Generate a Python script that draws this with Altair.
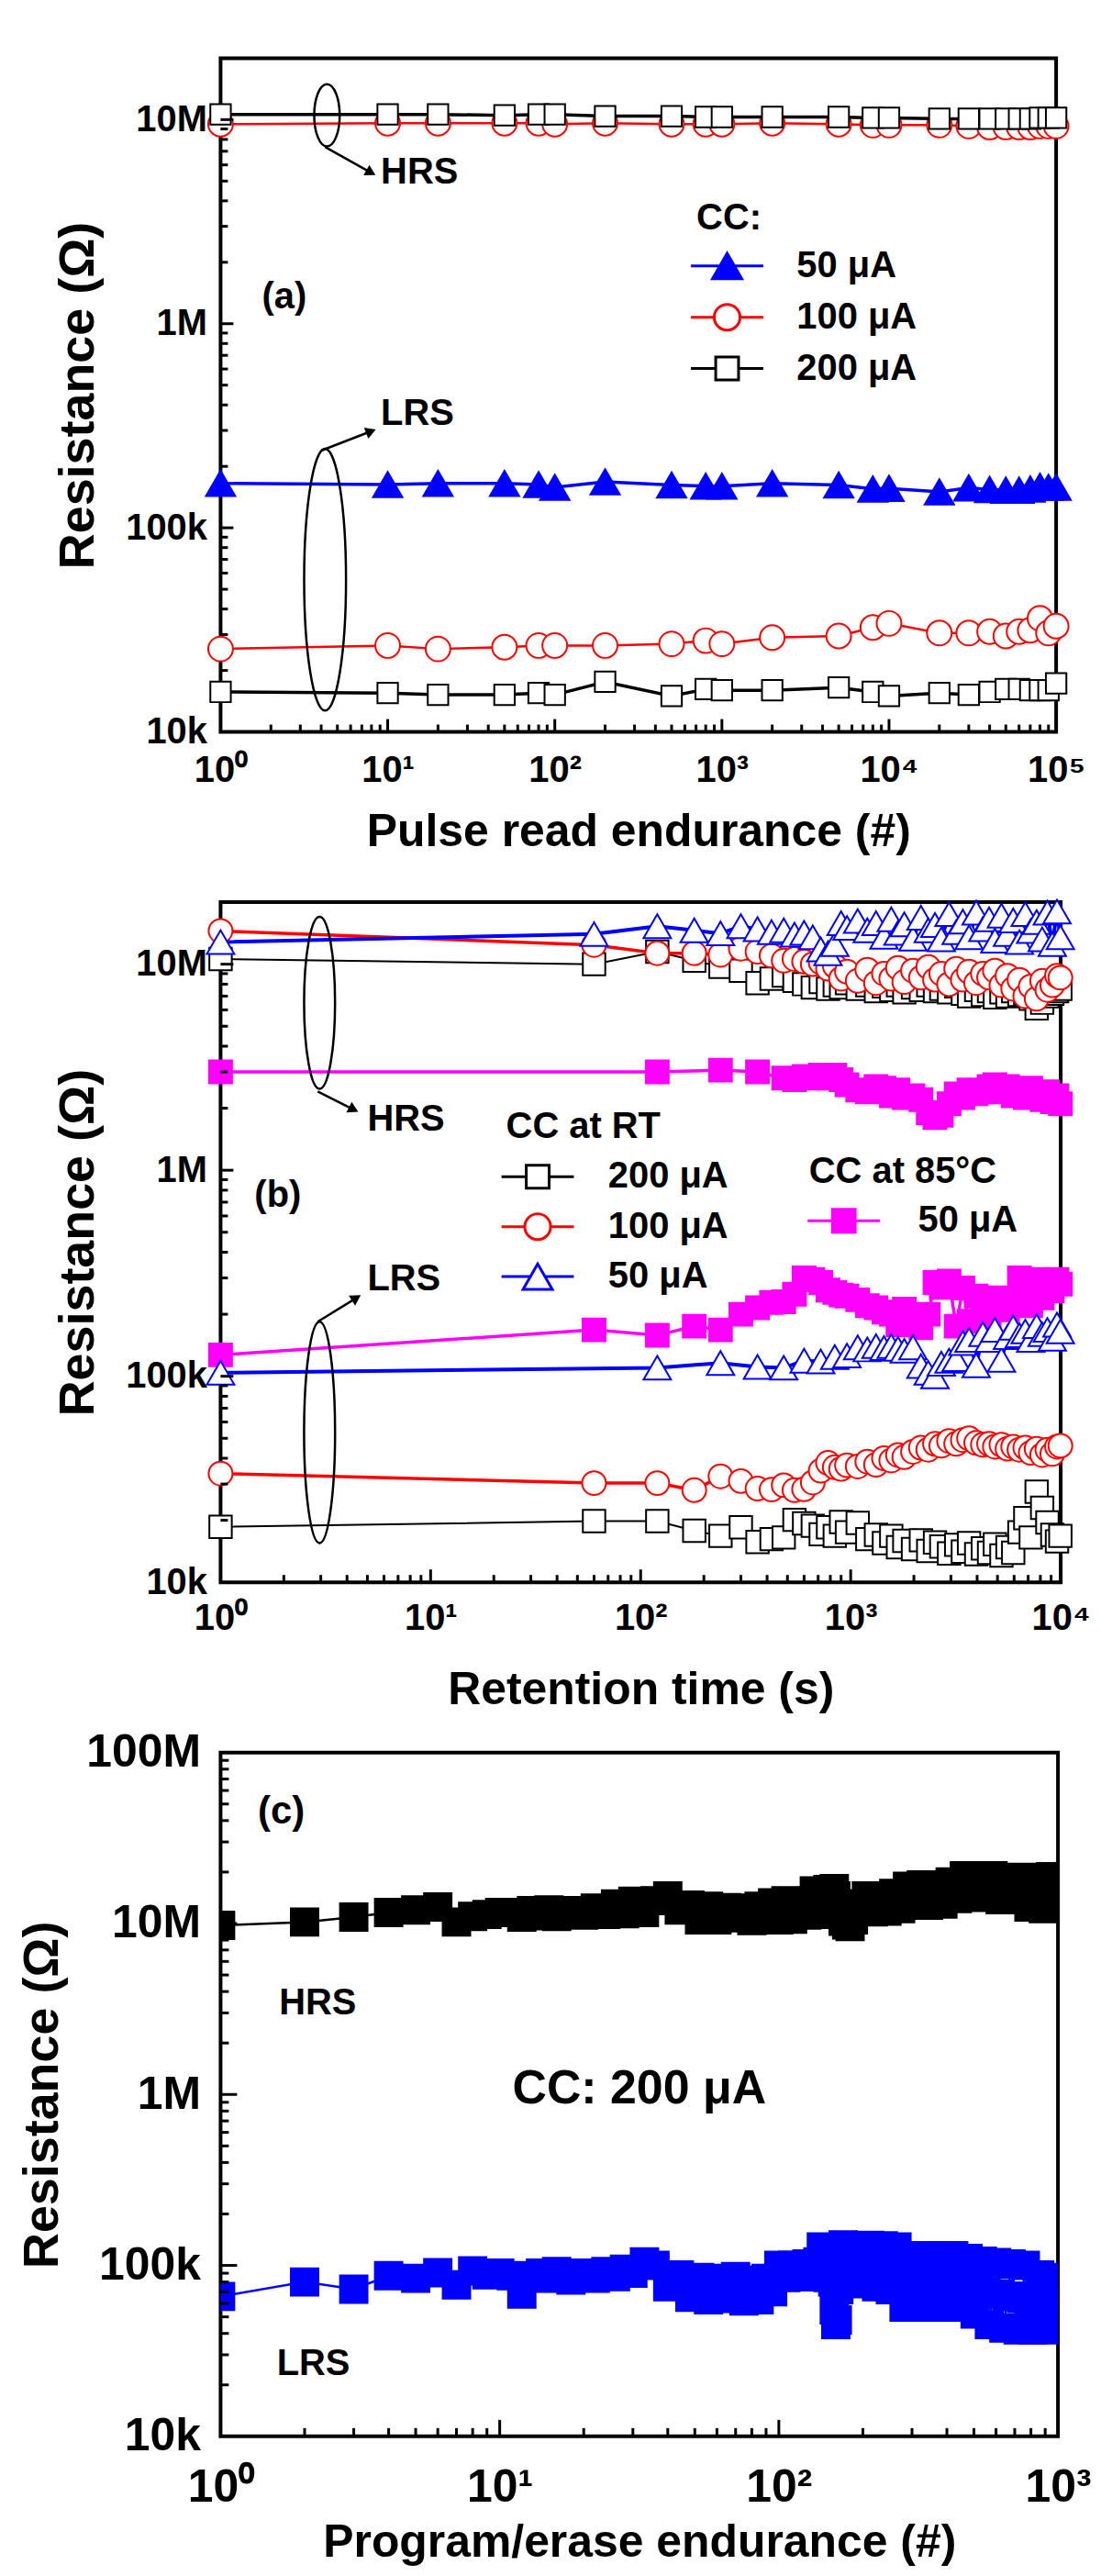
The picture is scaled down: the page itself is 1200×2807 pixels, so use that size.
import altair as alt
import pandas as pd

FONT = "Liberation Sans"
BLUE, RED, BLACK, MAGENTA = "#0000ff", "#ff0000", "#000000", "#ff00ff"

# ======================= DATA =======================
# ---- panel (a): pulse read endurance ----
a_x = [1, 10, 20, 50, 80, 100, 200, 500, 800, 1000, 2000, 5000, 8000, 10000,
       20000, 30000, 40000, 50000, 60000, 70000, 80000, 90000, 100000]
a_hrs_200_M = [10.6, 10.6, 10.6, 10.5, 10.6, 10.6, 10.4, 10.4, 10.3, 10.3, 10.3, 10.3,
               10.2, 10.2, 10.1, 10.1, 10.1, 10.1, 10.1, 10.1, 10.2, 10.2, 10.2]
a_hrs_100_M = [9.5, 9.6, 9.6, 9.6, 9.6, 9.5, 9.6, 9.5, 9.5, 9.5, 9.6, 9.5,
               9.4, 9.4, 9.4, 9.3, 9.2, 9.2, 9.2, 9.2, 9.3, 9.3, 9.3]
a_lrs_50_k = [165, 163, 165, 165, 163, 158, 168, 162, 160, 160, 165, 162,
              155, 156, 150, 157, 154, 153, 153, 155, 160, 158, 158]
a_lrs_100_k = [25.5, 26.5, 25.5, 26, 26.5, 26.5, 26.5, 27, 28, 27, 29, 29.5,
               32.5, 34, 30.5, 30.5, 31, 29.5, 31, 31.5, 36, 30.5, 33]
a_lrs_200_k = [15.7, 15.5, 15.2, 15.2, 15.5, 15.2, 17.6, 15.0, 16.2, 16.0, 16.0, 16.5,
               15.7, 15.0, 15.5, 15.2, 15.7, 16.2, 16.2, 16.0, 16.0, 16.0, 17.3]
a_legend = ["50 \u03bcA", "100 \u03bcA", "200 \u03bcA"]

# ---- panel (b): retention ----
b_x = [1, 60, 120, 180, 240, 300, 360, 420, 480, 540, 600, 660, 720, 780, 840, 900, 960,
       1080, 1200, 1320, 1440, 1560, 1680, 1800, 1980, 2160, 2340, 2520, 2700,
       2940, 3180, 3420, 3660, 3960, 4260, 4560, 4860, 5220, 5580, 5940,
       6360, 6780, 7200, 7680, 8160, 8640, 9120, 9600, 9960]
b_hrs_200_M = [10.6, 10.0, 11.5, 10.4, 9.7, 9.3, 8.1, 8.5, 8.8, 8.3, 8.0, 7.7, 8.2, 7.6, 7.9, 7.7, 8.1,
               7.6, 7.9, 7.4, 7.8, 7.5, 7.9, 7.3, 7.7, 7.5, 7.9, 7.4, 7.6,
               7.3, 7.8, 7.2, 7.0, 7.5, 7.1, 7.4, 6.9, 7.3, 7.0, 7.4,
               7.1, 7.2, 6.8, 6.1, 6.5, 7.0, 7.2, 7.4, 7.6]
b_hrs_100_M = [14.5, 12.4, 11.3, 11.3, 11.1, 11.9, 11.5, 11.0, 10.4, 10.6, 10.3, 10.0, 10.2, 9.5, 9.8, 8.5, 9.2,
               8.3, 9.4, 8.1, 9.0, 8.5, 9.6, 8.2, 9.3, 8.6, 9.7, 8.4, 9.0,
               8.0, 9.5, 8.4, 9.2, 8.1, 9.0, 8.6, 9.3, 7.9, 8.8, 7.6,
               8.4, 7.0, 7.8, 6.8, 8.3, 7.5, 7.9, 8.8, 8.6]
b_hrs_50_M = [12.8, 14.0, 15.3, 14.6, 14.1, 15.3, 14.8, 14.3, 14.6, 13.9, 14.2, 13.5, 11.8, 11.3, 12.5, 15.8, 15.0,
              16.2, 14.6, 15.8, 13.6, 16.5, 14.2, 15.6, 13.3, 16.8, 14.6, 15.5, 13.2,
              17.5, 14.3, 16.1, 13.5, 17.8, 14.8, 16.5, 13.0, 17.2, 14.0, 16.3,
              12.8, 17.5, 14.5, 16.0, 13.2, 17.8, 12.5, 18.0, 13.5]
b_lrs_200_k = [18.6, 19.8, 19.8, 17.8, 16.8, 18.5, 15.7, 16.2, 16.5, 20.1, 19.3, 18.8, 17.1, 18.5, 16.8, 19.6, 17.5,
               19.4, 16.2, 17.0, 15.5, 16.8, 14.8, 15.9, 14.5, 16.0, 14.2, 15.6, 14.9,
               13.8, 15.2, 14.1, 15.5, 13.7, 14.6, 13.9, 15.3, 13.5, 14.8, 13.9,
               17.5, 20.5, 16.5, 27.5, 23.0, 19.5, 17.0, 15.8, 16.8]
b_lrs_100_k = [33.7, 30.3, 30.3, 28.0, 32.7, 31.0, 28.5, 28.2, 29.6, 28.0, 28.3, 30.5, 34.8, 38.0, 36.2, 35.5, 37.0,
               36.5, 38.5, 37.2, 40.0, 39.0, 41.5, 40.5, 43.0, 45.0, 44.0, 47.0, 46.0,
               48.5, 47.0, 49.0, 50.0, 47.5, 46.5, 47.0, 45.5, 46.5, 44.5, 45.5,
               44.0, 45.0, 42.5, 44.5, 41.5, 44.0, 42.0, 45.5, 46.0]
b_lrs_50_x = [1, 120, 240, 360, 480, 600, 720, 840, 960,
              1080, 1200, 1320, 1440, 1560, 1680, 1800, 1980, 2160, 2340, 2520, 2700,
              2940, 3180, 3420, 3660, 3960, 4260, 4560, 4860, 5220, 5580, 5940,
              6360, 6780, 7200, 7680, 8160, 8640, 9120, 9600, 9960]
b_lrs_50_k = [104, 110, 116, 111, 110, 119, 118, 124, 126,
              138, 135, 140, 137, 140, 136, 133, 138, 112, 104, 100, 115,
              119, 121, 145, 150, 113, 160, 150, 168, 120, 155, 172,
              158, 165, 150, 175, 160, 168, 152, 178, 165]
b_hrs_85_x = [1, 120, 240, 360, 480, 540, 600, 660, 720, 780, 840, 900, 960,
              1080, 1200, 1320, 1440, 1560, 1680, 1800, 1980, 2160, 2340, 2520, 2700,
              2940, 3180, 3420, 3660, 3960, 4260, 4560, 4860, 5220, 5580, 5940,
              6360, 6780, 7200, 7680, 8160, 8640, 9120, 9600, 9960]
b_hrs_85_M = [3.0, 3.0, 3.06, 3.0, 2.8, 2.75, 2.85, 2.8, 2.9, 2.8, 2.9, 2.75, 2.6,
              2.45, 2.4, 2.55, 2.5, 2.3, 2.45, 2.25, 2.3, 2.2, 1.9, 1.8, 1.85,
              2.1, 2.35, 2.25, 2.45, 2.35, 2.4, 2.55, 2.6, 2.4, 2.55, 2.3,
              2.4, 2.25, 2.5, 2.3, 2.2, 2.4, 2.15, 2.3, 2.1]
b_lrs_85_k = [127, 168, 158, 175, 168, 200, 215, 228, 230, 250, 300, 295, 285, 262, 255, 248, 245,
              235, 220, 215, 205, 200, 178, 212, 195, 172, 200, 285, 270,
              290, 175, 268, 185, 245, 235, 195, 240, 230, 210, 235,
              300, 285, 220, 295, 240, 290, 260, 295, 280]
b_legend_rt = ["200 \u03bcA", "100 \u03bcA", "50 \u03bcA"]
b_legend_85 = ["50 \u03bcA"]

# ---- panel (c): program/erase endurance ----
c_x = [1, 2, 3, 4, 5, 6, 7, 8, 9, 10, 11, 12, 13, 14, 15, 16, 18, 20, 22, 24, 26, 28, 30,
       33, 36, 40, 44, 48, 52, 56, 60, 65, 70, 75, 80, 85, 90, 95,
       100, 103, 106, 109, 112, 115, 118, 122, 126, 130, 134, 138, 142, 146, 150,
       154, 156, 158, 160, 162, 164, 166, 170, 175, 180, 185, 190, 195,
       200, 206, 212, 218, 224, 230, 237, 244, 251, 258, 265, 273, 281, 289, 297,
       306, 315, 324, 334, 344, 354, 365, 376, 387, 399, 411, 423, 436, 449, 462, 476, 490,
       505, 520, 536, 552, 568, 585, 603, 621, 640, 659, 679, 699,
       720, 742, 764, 787, 811, 835, 860, 886, 912, 940, 968, 1000]
c_hrs_M = [9.75, 10.2, 10.9, 11.6, 12.0, 12.5, 10.2, 11.0, 11.3, 11.6, 11.6, 10.9, 11.9, 11.1, 12.0, 11.0,
           11.9, 11.2, 12.3, 11.3, 13.0, 11.4, 13.5,
           11.6, 13.6, 14.5, 12.0, 12.8, 10.5, 12.6, 10.5, 12.4, 10.8, 12.3, 10.4, 12.6, 10.6, 13.2,
           10.5, 12.0, 13.6, 12.0, 10.6, 12.0, 13.4, 12.2, 11.2, 13.5, 15.5, 13.0, 11.3, 13.6, 15.8,
           13.5, 15.0, 16.0, 14.5, 13.0, 12.2, 11.5, 10.3, 9.8, 9.6, 10.5, 12.0, 11.8,
           13.0, 14.5, 13.0, 11.7, 13.0, 14.3, 13.0, 11.8, 13.2, 15.0, 13.5, 12.2, 14.0, 16.5, 14.5,
           12.8, 14.5, 16.8, 14.6, 12.8, 14.6, 16.5, 14.6, 13.0, 15.0, 17.5, 16.0, 14.0, 16.2, 19.0, 16.5, 14.2,
           16.2, 18.8, 16.5, 14.5, 16.5, 19.0, 16.2, 13.8, 16.0, 18.5, 16.0, 14.1,
           15.5, 18.6, 15.5, 12.5, 15.2, 18.5, 15.0, 12.2, 15.0, 18.8, 15.2, 12.5]
c_lrs_k = [65.8, 80, 72.6, 87, 84, 90.6, 77, 93, 88, 90, 87, 68, 86, 90, 84, 92,
           82, 90, 84, 92, 86, 95, 90,
           105, 100, 75, 88, 65, 85, 63, 84, 64, 86, 62, 82, 63, 84, 70,
           100, 92, 85, 93, 100, 92, 86, 94, 102, 93, 86, 105, 128, 105, 85,
           110, 80, 55, 45, 48, 72, 100, 132, 100, 80, 102, 130, 100,
           78, 100, 131, 98, 75, 100, 130, 96, 72, 98, 128, 90, 57, 82, 112,
           82, 58, 82, 114, 82, 57, 80, 112, 80, 58, 80, 114, 80, 57, 80, 110, 78,
           52, 74, 106, 70, 45, 68, 104, 68, 43, 66, 102, 66,
           42, 64, 100, 62, 42, 60, 88, 60, 42, 60, 85, 60]

# ======================= HELPERS =======================
SUP_EXPR = ("'10' + ['\u2070','\u00b9','\u00b2','\u00b3','\u2074','\u2075']"
            "[round(log(datum.value)/LN10)]")
Y_EXPR = ("datum.value >= 9e7 ? '100M' : datum.value >= 9e6 ? '10M' : "
          "datum.value >= 9e5 ? '1M' : datum.value >= 9e4 ? '100k' : '10k'")


def xaxis(title, vals, lfs, tfs, lpad, tpad):
    return alt.Axis(values=vals, labelExpr=SUP_EXPR, title=title, labelFont=FONT,
                    labelFontWeight="bold", labelFontSize=lfs, labelColor="black",
                    labelPadding=lpad, labelOverlap=False, labelFlush=False, labelBound=False,
                    titleFont=FONT, titleFontWeight="bold", titleFontSize=tfs,
                    titleColor="black", titlePadding=tpad, ticks=False, domain=False, grid=False)


def yaxis(vals, lfs, tfs, lpad, tpad):
    return alt.Axis(values=vals, labelExpr=Y_EXPR, title="Resistance (\u03a9)", labelFont=FONT,
                    labelFontWeight="bold", labelFontSize=lfs, labelColor="black",
                    labelPadding=lpad, labelOverlap=False, labelFlush=False, labelBound=False,
                    titleFont=FONT, titleFontWeight="bold", titleFontSize=tfs,
                    titleColor="black", titlePadding=tpad, ticks=False, domain=False, grid=False)


class Panel:
    def __init__(self, xdom, ydom, xax, yax, w, h, clip=False):
        self.xs = alt.Scale(type="log", domain=xdom, nice=False)
        self.ys = alt.Scale(type="log", domain=ydom, nice=False)
        self.xax, self.yax, self.w, self.h, self.clip = xax, yax, w, h, clip
        self.layers = []

    def X(self, f="x"):
        return alt.X(f"{f}:Q", scale=self.xs, axis=self.xax)

    def Y(self, f="y"):
        return alt.Y(f"{f}:Q", scale=self.ys, axis=self.yax)

    def series(self, xv, yv, color, shape, size, lw, filled, sw=2):
        df = pd.DataFrame({"x": xv, "y": yv})
        base = alt.Chart(df)
        self.layers.append(base.mark_line(color=color, strokeWidth=lw, clip=self.clip)
                           .encode(x=self.X(), y=self.Y()))
        self.layers.append(base.mark_point(shape=shape, size=size, filled=True,
                                           fill=(color if filled else "white"), stroke=color,
                                           strokeWidth=sw, opacity=1, clip=self.clip)
                           .encode(x=self.X(), y=self.Y()))

    def ticks(self, xmaj, xmin, ymaj, ymin, lmaj, lmin):
        for vals, ln in ((xmaj, lmaj), (xmin, lmin)):
            self.layers.append(alt.Chart(pd.DataFrame({"v": vals}))
                               .mark_rule(color="black", strokeWidth=3)
                               .encode(x=self.X("v"), y=alt.value(self.h), y2=alt.value(self.h - ln)))
        for vals, ln in ((ymaj, lmaj), (ymin, lmin)):
            self.layers.append(alt.Chart(pd.DataFrame({"v": vals}))
                               .mark_rule(color="black", strokeWidth=3)
                               .encode(y=self.Y("v"), x=alt.value(0), x2=alt.value(ln)))

    def text(self, x, y, t, fs=40):
        self.layers.append(alt.Chart(pd.DataFrame({"x": [x], "y": [y], "t": [t]}))
                           .mark_text(align="left", baseline="middle", font=FONT,
                                      fontWeight="bold", fontSize=fs, color="black")
                           .encode(x=self.X(), y=self.Y(), text="t:N"))

    def ellipse(self, x, y, rx, px):
        path = f"M0,-1A{rx},1,0,1,1,0,1A{rx},1,0,1,1,0,-1Z"
        self.layers.append(alt.Chart(pd.DataFrame({"x": [x], "y": [y]}))
                           .mark_point(shape=path, size=px * px, filled=False, color="black",
                                       strokeWidth=2.5, opacity=1)
                           .encode(x=self.X(), y=self.Y()))

    def arrow(self, x1, y1, x2, y2, ang):
        df = pd.DataFrame({"x": [x1], "y": [y1], "x2": [x2], "y2": [y2]})
        self.layers.append(alt.Chart(df).mark_rule(color="black", strokeWidth=2.5)
                           .encode(x=self.X(), y=self.Y(), x2="x2:Q", y2="y2:Q"))
        self.layers.append(alt.Chart(pd.DataFrame({"x": [x2], "y": [y2]}))
                           .mark_point(shape="triangle-up", angle=ang, size=170, filled=True,
                                       color="black", opacity=1)
                           .encode(x=self.X(), y=self.Y()))

    def legend(self, labels, shapes, fills, strokes, title, lx, ly, tpad, rpad, soff, loff):
        lg = alt.Legend(orient="none", legendX=lx, legendY=ly, title=title, titleFont=FONT,
                        titleFontWeight="bold", titleFontSize=40, titleColor="black",
                        titlePadding=tpad, titleLimit=600, labelFont=FONT, labelFontWeight="bold",
                        labelFontSize=40, labelColor="black", labelLimit=600, symbolSize=1024,
                        symbolStrokeWidth=3, symbolOpacity=1, rowPadding=rpad,
                        symbolOffset=soff, labelOffset=loff, padding=0)
        df = pd.DataFrame({"s": labels})
        self.layers.append(alt.Chart(df).transform_filter("false")
                           .mark_point(filled=True, opacity=1, strokeWidth=3)
                           .encode(shape=alt.Shape("s:N", scale=alt.Scale(domain=labels, range=shapes), legend=lg),
                                   fill=alt.Fill("s:N", scale=alt.Scale(domain=labels, range=fills), legend=lg),
                                   stroke=alt.Stroke("s:N", scale=alt.Scale(domain=labels, range=strokes), legend=lg)))

    def chart(self, independent=False):
        c = alt.layer(*self.layers).properties(width=self.w, height=self.h)
        if independent:
            c = c.resolve_scale(shape="independent", fill="independent", stroke="independent")
        return c


def minor(decades, top):
    return [k * d for d in decades for k in range(2, 10) if k * d < top]


L_TRI = "M-2.47,0L2.47,0M0,-0.87L1,0.87L-1,0.87Z"
L_TRI_O = "M-2.47,0L-0.5,0M0.5,0L2.47,0M0,-0.87L1,0.87L-1,0.87Z"
L_CIR = "M-2.47,0L-0.88,0M0.88,0L2.47,0M-0.88,0A0.88,0.88,0,1,1,0.88,0A0.88,0.88,0,1,1,-0.88,0Z"
L_SQ = "M-2.47,0L-0.78,0M0.78,0L2.47,0M-0.78,-0.78L0.78,-0.78L0.78,0.78L-0.78,0.78Z"

M, K = 1e6, 1e3

# ======================= PANEL (a) =======================
pa = Panel([1, 1e5], [1e4, 2e7],
           xaxis("Pulse read endurance (#)", [1, 10, 100, 1e3, 1e4, 1e5], 40, 50, 22, 22),
           yaxis([1e4, 1e5, 1e6, 1e7], 40, 54, 15, 24), 913, 736)
pa.series(a_x, [v * K for v in a_lrs_50_k], BLUE, "triangle-up", 1024, 3.5, True)
pa.series(a_x, [v * M for v in a_hrs_100_M], RED, "circle", 729, 2.5, False)
pa.series(a_x, [v * K for v in a_lrs_100_k], RED, "circle", 729, 2.5, False)
pa.series(a_x, [v * M for v in a_hrs_200_M], BLACK, "square", 500, 3.5, False)
pa.series(a_x, [v * K for v in a_lrs_200_k], BLACK, "square", 500, 3.5, False)
pa.ticks([10, 100, 1e3, 1e4], minor([1, 10, 100, 1e3, 1e4], 1e5),
         [1e5, 1e6, 1e7], minor([1e4, 1e5, 1e6, 1e7], 2e7), 14, 8)
pa.ellipse(4.33, 10.5e6, 0.41, 68)
pa.arrow(4.22, 7.35e6, 7.94, 5.5e6, 119)
pa.text(9.1, 5.5e6, "HRS")
pa.ellipse(4.22, 55.7e3, 0.16, 286)
pa.arrow(4.0, 239e3, 7.94, 297e3, 69)
pa.text(9.1, 361e3, "LRS")
pa.text(1.77, 1.35e6, "(a)")
pa.legend(a_legend, [L_TRI, L_CIR, L_SQ], [BLUE, "white", "white"], [BLUE, RED, BLACK],
          "CC:", 520, 155, 12, 15, 13.5, 56)

# ======================= PANEL (b) =======================
pb = Panel([1, 1e4], [1e4, 2e7],
           xaxis("Retention time (s)", [1, 10, 100, 1e3, 1e4], 40, 50, 19, 34),
           yaxis([1e4, 1e5, 1e6, 1e7], 40, 54, 15, 24), 918, 743)
pb.series(b_hrs_85_x, [v * M for v in b_hrs_85_M], MAGENTA, "square", 625, 3.5, True)
pb.series(b_x, [v * K for v in b_lrs_85_k], MAGENTA, "square", 625, 3.5, True)
pb.series(b_x, [v * M for v in b_hrs_200_M], BLACK, "square", 600, 2, False)
pb.series(b_x, [v * K for v in b_lrs_200_k], BLACK, "square", 600, 2, False)
pb.series(b_x, [v * M for v in b_hrs_100_M], RED, "circle", 676, 3.5, False)
pb.series(b_x, [v * K for v in b_lrs_100_k], RED, "circle", 676, 3.5, False)
pb.series(b_x, [v * M for v in b_hrs_50_M], BLUE, "triangle-up", 900, 4, False)
pb.series(b_lrs_50_x, [v * K for v in b_lrs_50_k], BLUE, "triangle-up", 900, 4, False)
pb.ticks([10, 100, 1e3], minor([1, 10, 100, 1e3], 1e4),
         [1e5, 1e6, 1e7], minor([1e4, 1e5, 1e6, 1e7], 2e7), 14, 8)
pb.ellipse(2.96, 6.5e6, 0.18, 188)
pb.arrow(2.9, 2.41e6, 4.3, 1.97e6, 117)
pb.text(5.0, 1.76e6, "HRS")
pb.ellipse(2.96, 53.4e3, 0.14, 242)
pb.arrow(2.9, 184e3, 4.43, 240e3, 58)
pb.text(5.0, 294e3, "LRS")
pb.text(1.45, 755e3, "(b)")
pb.legend(b_legend_rt, [L_SQ, L_CIR, L_TRI_O], ["white", "white", "white"], [BLACK, RED, BLUE],
          "CC at RT", 312, 226, 14, 13.5, 14.5, 57)
pb.legend(b_legend_85, [L_SQ], [MAGENTA], [MAGENTA],
          "CC at 85\u00b0C", 643, 275, 13, 13.5, 18, 61)

# ======================= PANEL (c) =======================
pc = Panel([1, 1e3], [1e4, 1e8],
           xaxis("Program/erase endurance (#)", [1, 10, 100, 1e3], 50, 50, 31, 10),
           yaxis([1e4, 1e5, 1e6, 1e7, 1e8], 50, 54, 22, 20), 915, 747, clip=True)
pc.series(c_x, [v * M for v in c_hrs_M], BLACK, "square", 900, 2.5, True)
pc.series(c_x, [v * K for v in c_lrs_k], BLUE, "square", 900, 2.5, True)
pc.ticks([10, 100], minor([1, 10, 100], 1e3),
         [1e5, 1e6, 1e7], minor([1e4, 1e5, 1e6, 1e7], 1e8), 18, 9)
pc.text(1.36, 44.9e6, "(c)", 42)
pc.text(1.62, 3.42e6, "HRS")
pc.text(1.59, 26.4e3, "LRS")
pc.text(11.1, 1.08e6, "CC: 200 \u03bcA", 52)

chart = (alt.vconcat(pa.chart(), pb.chart(independent=True), pc.chart(),
                     spacing=186, bounds="flush")
         .properties(padding={"top": 50, "left": 9, "right": 0, "bottom": 0}, background="white")
         .configure_view(stroke="black", strokeWidth=4))

chart.save("out.html", embed_options={"renderer": "svg", "actions": False})
